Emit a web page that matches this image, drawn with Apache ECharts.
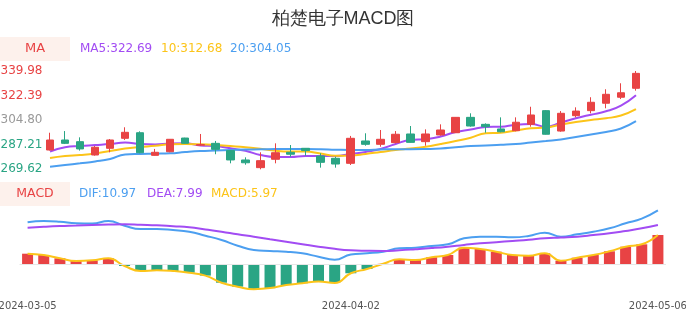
<!DOCTYPE html>
<html>
<head>
<meta charset="utf-8">
<title>柏楚电子MACD图</title>
<script src="https://cdn.jsdelivr.net/npm/echarts@6/dist/echarts.min.js"></script>
<style>
	html, body { margin: 0; padding: 0; background: #fff; }
	#main { width: 686px; height: 320px; }
</style>
</head>
<body>
<div id="main"></div>
<script>
var dates = ['2024-03-05','2024-03-06','2024-03-07','2024-03-08','2024-03-11','2024-03-12','2024-03-13','2024-03-14','2024-03-15','2024-03-18',
	'2024-03-19','2024-03-20','2024-03-21','2024-03-22','2024-03-25','2024-03-26','2024-03-27','2024-03-28','2024-03-29','2024-04-01',
	'2024-04-02','2024-04-03','2024-04-08','2024-04-09','2024-04-10','2024-04-11','2024-04-12','2024-04-15','2024-04-16','2024-04-17',
	'2024-04-18','2024-04-19','2024-04-22','2024-04-23','2024-04-24','2024-04-25','2024-04-26','2024-04-29','2024-04-30','2024-05-06'];

// K线 开/收/低/高
var openData = [283.43,290.60,289.40,279.85,284.65,291.80,295.80,279.60,282.20,292.00,
	286.90,288.20,283.00,276.30,270.80,276.80,281.80,284.65,279.10,277.50,
	273.90,289.90,287.50,288.70,294.90,289.40,294.20,295.80,306.80,301.80,
	298.50,297.25,301.80,311.60,297.00,308.00,311.60,316.90,321.20,327.60];
var closeData = [290.59,288.20,284.20,285.40,290.60,296.10,281.50,281.80,291.10,288.20,
	287.30,283.90,276.30,274.30,275.80,281.50,280.40,283.00,274.60,273.40,
	291.80,287.50,291.10,294.70,288.90,294.90,297.75,306.80,300.60,300.10,
	296.50,303.30,308.50,294.70,309.70,311.30,317.60,323.30,324.40,338.30];
var lowData = [283.10,287.70,283.00,279.40,281.80,290.60,281.10,279.40,281.80,288.00,
	286.60,280.40,273.90,272.90,269.62,273.90,278.60,279.40,270.80,270.80,
	272.70,286.50,285.80,288.20,288.70,286.50,293.70,295.60,300.10,295.80,
	296.10,296.80,300.10,294.50,296.50,306.80,309.70,313.30,319.90,325.90];
var highData = [295.80,297.00,292.50,286.30,291.30,299.70,296.80,284.20,291.30,292.20,
	294.90,289.90,283.40,278.20,281.80,288.20,287.00,284.80,281.10,278.60,
	293.50,295.40,297.75,297.00,300.60,298.20,301.80,307.00,309.70,302.50,
	306.80,306.80,314.40,312.00,311.30,313.97,321.20,326.90,331.20,339.98];

var ma5 = [282.36,285.37,286.30,287.01,287.73,288.80,287.73,287.37,288.09,288.23,
	286.65,286.30,284.65,282.93,279.85,278.42,278.42,279.14,279.14,279.14,
	280.57,282.00,284.15,287.73,290.59,291.16,293.09,296.32,298.10,299.89,
	300.11,301.54,302.04,300.11,303.11,306.12,308.70,311.13,315.28,322.69];
var ma10 = [277.71,279.14,279.85,280.93,282.72,284.51,285.58,286.44,287.58,287.73,
	287.51,287.01,286.30,285.37,284.36,282.93,282.36,282.36,280.93,279.35,
	279.50,280.57,282.00,283.43,284.51,285.79,287.73,289.87,292.24,295.39,
	295.81,297.39,298.96,299.54,301.68,303.47,304.90,306.12,308.13,312.68];
var ma20 = [271.48,272.70,273.91,275.20,276.99,280.21,280.57,280.78,281.07,282.00,
	282.72,283.08,283.43,283.79,283.93,284.15,284.15,284.15,284.01,283.65,
	283.43,283.43,283.79,284.01,284.01,284.15,284.51,285.37,286.30,286.65,
	287.15,287.73,288.80,289.87,290.95,292.74,294.53,296.32,298.82,304.05];

var dif = [8.56,8.82,8.68,8.35,8.30,8.80,7.86,7.19,7.19,6.99,
	6.64,5.83,4.95,3.79,2.91,2.71,2.57,2.24,1.55,0.95,
	2.00,2.24,2.57,3.26,3.38,3.73,4.07,5.30,5.62,5.62,
	5.50,5.77,6.44,5.62,6.11,6.64,7.33,8.35,9.30,10.97];
var dea = [7.46,7.65,7.80,7.90,8.01,8.10,8.15,8.05,7.95,7.75,
	7.54,7.10,6.64,6.10,5.62,5.10,4.60,4.10,3.59,3.15,
	2.85,2.75,2.71,2.85,3.06,3.30,3.59,3.95,4.28,4.50,
	4.75,5.00,5.30,5.45,5.62,5.95,6.32,6.80,7.33,7.99];
var macd = [2.16,1.89,1.22,0.67,0.81,1.22,-0.35,-1.36,-1.22,-1.36,
	-1.71,-2.30,-3.75,-4.56,-5.06,-4.85,-4.22,-3.87,-3.50,-3.80,
	-1.83,-0.96,0.10,1.02,0.88,1.43,1.89,3.38,3.12,2.57,
	1.89,1.75,2.24,0.73,1.34,1.89,2.65,3.58,4.07,5.97];

var priceTicks = [269.62, 287.21, 304.80, 322.39, 339.98];
var dateTicks = [0, 20, 39];

var upColor = '#e84344';
var downColor = '#2aa584';
var purple = '#a24cf3';
var yellow = '#fcc419';
var blue = '#4c9ff0';
var labelFont = 'DejaVu Sans';

var myChart = echarts.init(document.getElementById('main'));

var kData = [];
for (var i = 0; i < dates.length; i++) {
	kData.push([openData[i], closeData[i], lowData[i], highData[i]]);
}

function lineSeries(name, data, color, xi, yi) {
	return {
		name: name,
		type: 'line',
		xAxisIndex: xi,
		yAxisIndex: yi,
		data: data,
		smooth: true,
		showSymbol: false,
		silent: true,
		lineStyle: { color: color, width: 2 },
		z: 2
	};
}

function legendText(text, x, y, color) {
	return {
		type: 'text', x: x, y: y,
		style: { text: text, fill: color, fontSize: 12, fontFamily: labelFont, align: 'left', verticalAlign: 'middle' }
	};
}

var option = {
	animation: false,
	title: {
		text: '柏楚电子MACD图',
		left: 'center',
		top: 5,
		textStyle: { fontSize: 18, fontWeight: 'normal', color: '#333', fontFamily: 'sans-serif' }
	},
	graphic: [
		{ type: 'rect', shape: { x: 0, y: 37, width: 70, height: 24 }, style: { fill: '#fdf1ec' } },
		{ type: 'text', x: 35, y: 49, style: { text: 'MA', fill: upColor, fontSize: 13, fontFamily: labelFont, align: 'center', verticalAlign: 'middle' } },
		legendText('MA5:322.69', 80, 49, purple),
		legendText('10:312.68', 161, 49, yellow),
		legendText('20:304.05', 230, 49, blue),
		{ type: 'rect', shape: { x: 0, y: 182, width: 70, height: 24 }, style: { fill: '#fdf1ec' } },
		{ type: 'text', x: 35, y: 194, style: { text: 'MACD', fill: upColor, fontSize: 12.5, fontFamily: labelFont, align: 'center', verticalAlign: 'middle' } },
		legendText('DIF:10.97', 79, 194, blue),
		legendText('DEA:7.99', 147, 194, purple),
		legendText('MACD:5.97', 211, 194, yellow)
	],
	grid: [
		{ left: 42.5, right: 42.5, top: 71, height: 98.3, outerBoundsMode: 'none' },
		{ left: 19.5, right: 20, top: 205.4, height: 88.35, outerBoundsMode: 'none' }
	],
	xAxis: [
		{
			type: 'category', gridIndex: 0, data: dates, boundaryGap: true,
			axisLine: { show: false }, axisTick: { show: false }, axisLabel: { show: false }, splitLine: { show: false }
		},
		{
			type: 'category', gridIndex: 1, data: dates, boundaryGap: true,
			axisLine: { show: false, onZero: false }, axisTick: { show: false }, splitLine: { show: false },
			axisLabel: {
				margin: 8, fontSize: 10, color: '#555', fontFamily: labelFont,
				interval: function (index) { return dateTicks.indexOf(index) >= 0; }
			}
		}
	],
	yAxis: [
		{
			type: 'value', gridIndex: 0, min: 269.62, max: 339.98, scale: true,
			axisLine: { show: false }, axisTick: { show: false }, splitLine: { show: false },
			axisLabel: {
				customValues: priceTicks,
				align: 'left', margin: 42, fontSize: 12, fontFamily: labelFont,
				formatter: function (v) { return Number(v).toFixed(2); },
				color: function (v) {
					var n = Number(v);
					if (n > 304.81) return upColor;
					if (n < 304.79) return downColor;
					return '#999';
				}
			}
		},
		{
			type: 'value', gridIndex: 1, min: -6, max: 12,
			axisLine: { show: false }, axisTick: { show: false }, axisLabel: { show: false }, splitLine: { show: false }
		}
	],
	series: [
		lineSeries('MA5', ma5, purple, 0, 0),
		lineSeries('MA10', ma10, yellow, 0, 0),
		lineSeries('MA20', ma20, blue, 0, 0),
		{
			name: 'K', type: 'candlestick', xAxisIndex: 0, yAxisIndex: 0,
			data: kData, barWidth: 8, z: 3,
			itemStyle: { color: upColor, color0: downColor, borderColor: upColor, borderColor0: downColor, borderWidth: 1 }
		},
		{
			name: 'MACD柱', type: 'bar', xAxisIndex: 1, yAxisIndex: 1,
			data: macd, barWidth: 11,
			itemStyle: {
				color: function (p) { return p.value >= 0 ? upColor : downColor; }
			},
			markLine: {
				silent: true, symbol: 'none', label: { show: false },
				lineStyle: { color: '#e6e6e6', type: 'solid', width: 1 },
				data: [{ yAxis: 0 }]
			}
		},
		lineSeries('DIF', dif, blue, 1, 1),
		lineSeries('DEA', dea, purple, 1, 1),
		lineSeries('MACD', macd, yellow, 1, 1)
	]
};

myChart.setOption(option);
</script>
</body>
</html>
